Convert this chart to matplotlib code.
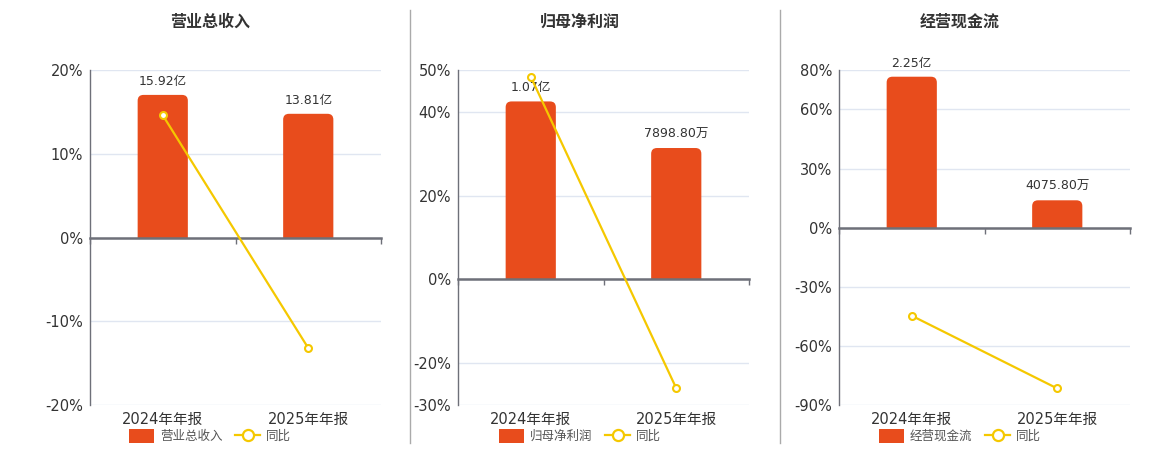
import matplotlib
matplotlib.use("Agg")
import matplotlib.pyplot as plt
from matplotlib.patches import FancyBboxPatch, Rectangle, Patch
from matplotlib.lines import Line2D
from matplotlib.transforms import blended_transform_factory

plt.rcParams['font.family'] = ['DejaVu Sans', 'Noto Sans CJK SC']

# 数据
categories = ['2024年年报', '2025年年报']
titles = ['营业总收入', '归母净利润', '经营现金流']
bar_values = [[15.92, 13.81], [1.07, 0.78988], [2.25, 0.40758]]  # 亿
bar_labels = [['15.92亿', '13.81亿'], ['1.07亿', '7898.80万'], ['2.25亿', '4075.80万']]
yoy_values = [[14.6, -13.2], [48.4, -26.0], [-44.7, -81.6]]  # %
pct_ticks = [[20, 10, 0, -10, -20], [50, 40, 20, 0, -20, -30], [80, 60, 30, 0, -30, -60, -90]]
pct_limits = [(-20, 20), (-30, 50), (-90, 80)]
bar_top = [18.7, 1.259, 2.35]  # 柱状图轴上限（亿），与百分比轴零点对齐

BAR_COLOR = '#e84c1c'
LINE_COLOR = '#f5c800'
AXIS_COLOR = '#6e7079'
GRID_COLOR = '#e0e6f1'
TEXT_COLOR = '#333333'

W, H = 1160, 450
fig = plt.figure(figsize=(W / 100, H / 100), dpi=100)

axes_left = [90, 458, 839]
axes_width = 291
centers = [210, 580, 960]

for i in range(3):
    left = axes_left[i] / W
    ax = fig.add_axes([left, 1 - 405 / H, axes_width / W, 335 / H])
    ax2 = ax.twinx()

    lo, hi = pct_limits[i]
    k = bar_top[i] / hi
    ax.set_ylim(lo * k, hi * k)
    ax2.set_ylim(lo, hi)
    ax.set_xlim(-0.5, 1.5)

    # 网格线画在柱状图轴上（位于柱子后面）
    ax.set_yticks([t * k for t in pct_ticks[i]])
    ax.tick_params(axis='y', left=False, right=False, labelleft=False, labelright=False)
    ax.grid(axis='y', color=GRID_COLOR, linewidth=1)
    ax.set_axisbelow(True)

    # 柱子（圆角顶部）
    x = list(range(len(categories)))
    bars = ax.bar(x, bar_values[i], width=0.345, color=BAR_COLOR, zorder=2)
    fig.canvas.draw()
    bbox = ax.get_window_extent()
    px = bbox.width / 2.0
    py = bbox.height / (hi * k - lo * k)
    aspect = px / py
    r = 0.04
    for rect in bars:
        rect.set_visible(False)
        bx, by, bw, bh = rect.get_x(), rect.get_y(), rect.get_width(), rect.get_height()
        ext = r * aspect * 2
        p = FancyBboxPatch((bx, by - ext), bw, bh + ext,
                           boxstyle=f"round,pad=0,rounding_size={r}",
                           mutation_aspect=aspect, facecolor=BAR_COLOR,
                           edgecolor='none', zorder=2)
        ax.add_patch(p)
        p.set_clip_path(Rectangle((bx - 1, 0), bw + 2, bh * 2, transform=ax.transData))
    for xi, v, lab in zip(x, bar_values[i], bar_labels[i]):
        ax.annotate(lab, (xi, v), xytext=(0, 5), textcoords='offset points',
                    ha='center', va='bottom', fontsize=9, color=TEXT_COLOR, zorder=5)

    # x 轴（零线）
    for s in ['top', 'right', 'left']:
        ax.spines[s].set_visible(False)
    ax.spines['bottom'].set_position(('data', 0))
    ax.spines['bottom'].set_color(AXIS_COLOR)
    ax.spines['bottom'].set_linewidth(1.8)
    ax.spines['bottom'].set_zorder(3)
    ax.set_xticks(x)
    ax.set_xticks([-0.5, 0.5, 1.5], minor=True)
    ax.tick_params(axis='x', which='major', length=0, labelbottom=False)
    ax.tick_params(axis='x', which='minor', length=4, color=AXIS_COLOR, width=1)
    trans = blended_transform_factory(ax.transData, ax.transAxes)
    for xi, c in zip(x, categories):
        ax.text(xi, -0.02, c, transform=trans, ha='center', va='top',
                fontsize=10.5, color=TEXT_COLOR)

    # 同比折线
    ax2.plot(x, yoy_values[i], color=LINE_COLOR, linewidth=1.6, marker='o',
             markersize=5, markerfacecolor='white', markeredgecolor=LINE_COLOR,
             markeredgewidth=1.5, zorder=4)
    ax2.yaxis.tick_left()
    ax2.set_yticks(pct_ticks[i])
    ax2.set_yticklabels([f'{t}%' for t in pct_ticks[i]])
    ax2.tick_params(axis='y', length=0, labelsize=10.5, labelcolor=TEXT_COLOR, pad=5)
    for s in ['top', 'right', 'bottom']:
        ax2.spines[s].set_visible(False)
    ax2.spines['left'].set_color(AXIS_COLOR)
    ax2.spines['left'].set_linewidth(1)

    # 标题
    fig.text(centers[i] / W, 1 - 22 / H, titles[i], ha='center', va='center',
             fontsize=11.5, fontweight='bold', color=TEXT_COLOR)

    # 图例
    handles = [Patch(facecolor=BAR_COLOR, edgecolor='none'),
               Line2D([], [], color=LINE_COLOR, linewidth=1.6, marker='o',
                      markersize=8, markerfacecolor='white',
                      markeredgecolor=LINE_COLOR, markeredgewidth=1.6)]
    fig.legend(handles, [titles[i], '同比'], loc='center',
               bbox_to_anchor=(centers[i] / W, 1 - 436 / H), ncol=2, frameon=False,
               fontsize=9, handlelength=2.0, handleheight=1.3, columnspacing=1.0,
               handletextpad=0.5, borderpad=0, labelcolor='#555555')

# 分隔线
for xs in [410, 780]:
    fig.add_artist(Line2D([xs / W, xs / W], [1 - 10 / H, 1 - 443 / H],
                          color='#aaaaaa', linewidth=1))

fig.savefig('out.png', dpi=100)
